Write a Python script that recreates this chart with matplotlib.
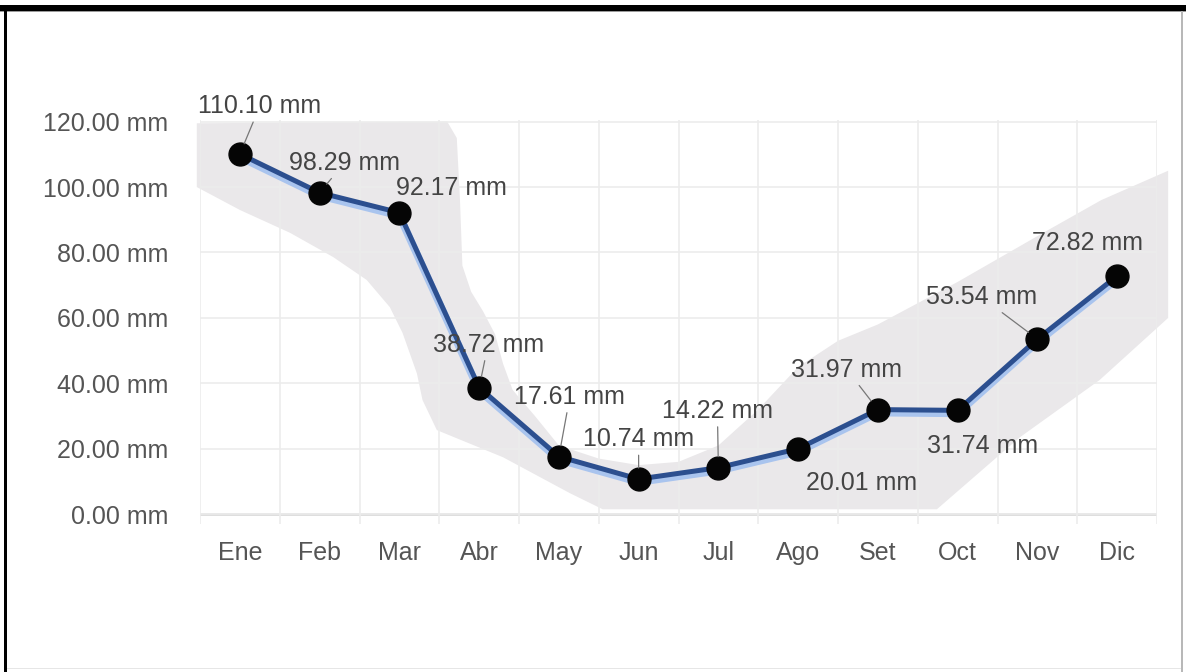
import matplotlib
matplotlib.use("Agg")
import matplotlib.pyplot as plt
import matplotlib.transforms as mtransforms
from matplotlib.patches import Rectangle
import numpy as np

# Monthly precipitation (mm)
months = ["Ene", "Feb", "Mar", "Abr", "May", "Jun",
          "Jul", "Ago", "Set", "Oct", "Nov", "Dic"]
rain_mm = [110.10, 98.29, 92.17, 38.72, 17.61, 10.74,
           14.22, 20.01, 31.97, 31.74, 53.54, 72.82]

# Shaded range behind the series (upper and lower edges)
band_upper_x = [-0.54, 2.6, 2.72, 2.76, 2.79, 2.9, 3.05, 3.2, 3.3, 3.42, 3.7,
                4.0, 4.5, 5.0, 5.5, 6.0, 6.5, 7.0, 7.5, 8.0, 9.0, 10.0, 10.8, 11.64]
band_upper_y = [119.5, 120, 115, 96, 76, 68, 62, 55, 46, 38, 30,
                21, 17, 15, 16, 21, 32, 45, 53, 58, 71, 85, 96, 105]
band_lower_x = [-0.54, 0.0, 0.63, 1.17, 1.59, 1.88, 2.04, 2.22, 2.29, 2.47,
                3.3, 4.14, 4.55, 8.74, 9.78, 10.78, 11.64]
band_lower_y = [100, 93, 86, 78.6, 71.6, 63.3, 55.4, 43, 34.9, 25.7,
                17.4, 6.4, 1.5, 1.5, 23.5, 41, 60]

y_ticks = [0, 20, 40, 60, 80, 100, 120]

# Label placement (pixel offsets from each point) and leader-line flags
label_offsets = [(20, 48), (25, 30), (52, 25), (9, 43), (11, 60), (0, 40),
                 (-1, 57), (63, -34), (-31, 40), (25, -36), (-56, 42), (-30, 33)]
show_leader = [True, True, False, True, True, True,
               True, False, True, False, True, False]

plt.rcParams["font.family"] = ["Liberation Sans", "DejaVu Sans"]

W, H = 1186, 672
fig = plt.figure(figsize=(W / 100, H / 100), dpi=100)
fig.patch.set_facecolor("white")

left, right, top, bottom = 200, 1157, 120, 524
ax = fig.add_axes([left / W, 1 - bottom / H, (right - left) / W, (bottom - top) / H])
ax.set_facecolor("white")

x = np.arange(len(months))
ax.set_xlim(-0.5, len(months) - 0.5)
ax.set_ylim(-3, 120.5)

# grid: vertical lines between months, horizontal at each y tick
ax.set_xticks(x)
ax.set_xticks(np.arange(-0.5, len(months), 1.0), minor=True)
ax.set_xticklabels(months)
ax.set_yticks(y_ticks)
ax.set_yticklabels([f"{v:.2f} mm" for v in y_ticks])
ax.grid(which="minor", axis="x", color="#ececec", lw=1.2, zorder=0)
ax.grid(which="major", axis="y", color="#ececec", lw=1.2, zorder=0)
ax.grid(which="major", axis="x", visible=False)
ax.axhline(0, color="#d4d4d4", lw=1.8, zorder=1)
for s in ax.spines.values():
    s.set_visible(False)
ax.tick_params(which="both", length=0)
ax.tick_params(axis="y", pad=23, labelsize=18, labelcolor="#555555")
ax.tick_params(axis="x", pad=12, labelsize=18, labelcolor="#555555")

# shaded range
poly_x = np.r_[band_upper_x, band_lower_x[::-1]]
poly_y = np.r_[band_upper_y, band_lower_y[::-1]]
ax.fill(poly_x, poly_y, color="#eae8ea", lw=0, zorder=1.5, clip_on=False)

# soft light-blue underline, then the main series line
glow = mtransforms.offset_copy(ax.transData, fig=fig, x=0, y=-3, units="dots")
ax.plot(x, rain_mm, color="#a9c4ee", lw=5.5, transform=glow,
        solid_joinstyle="round", zorder=2)
ax.plot(x, rain_mm, color="#2c4f8f", lw=3.6, solid_joinstyle="round", zorder=3)
ax.plot(x, rain_mm, ls="none", marker="o", ms=16.5, color="#050505", zorder=4)

for xi, v, (dx, dy), lead in zip(x, rain_mm, label_offsets, show_leader):
    arrow = dict(arrowstyle="-", color="#777777", lw=0.9,
                 shrinkA=1, shrinkB=8) if lead else None
    ax.annotate(f"{v:.2f} mm", xy=(xi, v), xytext=(dx, dy),
                textcoords="offset pixels", ha="center", va="center",
                fontsize=18, color="#444444", arrowprops=arrow, zorder=5)

# frame around the figure
fig.add_artist(Rectangle((0, 1 - 11 / H), 1, 6 / H, transform=fig.transFigure,
                         color="black", lw=0))
fig.add_artist(Rectangle((0, 1 - 12 / H), 1, 1 / H, transform=fig.transFigure,
                         color="#9a9a9a", lw=0))
fig.add_artist(Rectangle((4 / W, 0), 3 / W, 1 - 5 / H, transform=fig.transFigure,
                         color="black", lw=0))
fig.add_artist(Rectangle((1181 / W, 0), 2 / W, 1 - 11 / H, transform=fig.transFigure,
                         color="#b8b8b8", lw=0))
fig.add_artist(Rectangle((7 / W, 3 / H), 1174 / W, 1.5 / H, transform=fig.transFigure,
                         color="#e6e6e6", lw=0))

fig.savefig("out.png", dpi=100, facecolor="white")
